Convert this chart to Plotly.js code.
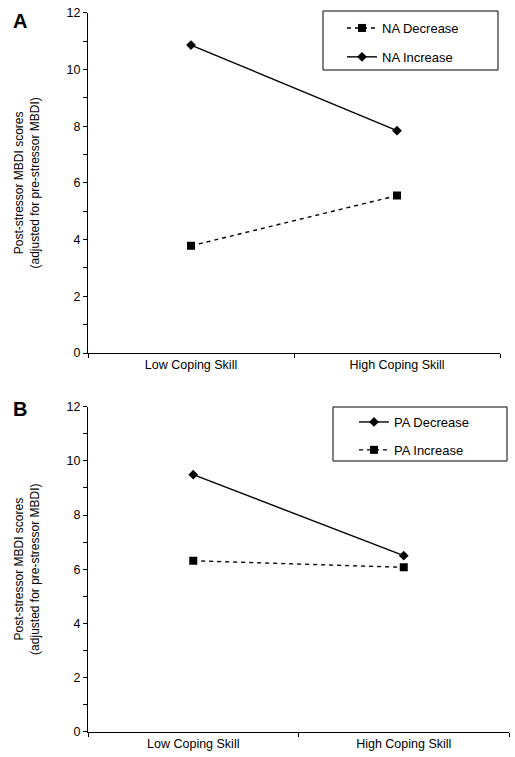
<!DOCTYPE html>
<html><head><meta charset="utf-8">
<script src="https://cdn.plot.ly/plotly-3.0.1.min.js"></script>
<style>html,body{margin:0;padding:0;background:#fff}#chart{width:515px;height:757px}</style>
</head><body><div id="chart"></div>
<script>
const categories = ["Low Coping Skill", "High Coping Skill"];
const naDecrease = [3.78, 5.55];
const naIncrease = [10.86, 7.84];
const paDecrease = [9.49, 6.50];
const paIncrease = [6.31, 6.07];
const yTitle = "Post-stressor MBDI scores<br>(adjusted for pre-stressor MBDI)";

const F = "Liberation Sans, Arial, sans-serif";
const sq = {symbol: "square", size: 8, color: "#000"};
const dm = {symbol: "diamond", size: 7.5, color: "#000"};
const solid = {color: "#000", width: 1.4};
const dashed = {color: "#000", width: 1.4, dash: "4px,4px"};

const traces = [
  {x: categories, y: naDecrease, name: "NA Decrease", mode: "lines+markers", marker: sq, line: dashed, xaxis: "x", yaxis: "y", legend: "legend", legendgroup: "a1"},
  {x: categories, y: naIncrease, name: "NA Increase", mode: "lines+markers", marker: dm, line: solid, xaxis: "x", yaxis: "y", legend: "legend", legendgroup: "a2"},
  {x: categories, y: paDecrease, name: "PA Decrease", mode: "lines+markers", marker: dm, line: solid, xaxis: "x2", yaxis: "y2", legend: "legend2", legendgroup: "b1"},
  {x: categories, y: paIncrease, name: "PA Increase", mode: "lines+markers", marker: sq, line: dashed, xaxis: "x2", yaxis: "y2", legend: "legend2", legendgroup: "b2"}
];

function xa(domain, anchor) {
  return {domain: domain, anchor: anchor, type: "category", range: [-0.5, 1.5],
    tickson: "boundaries", ticks: "outside", ticklen: 4, tickcolor: "#000",
    showline: true, linecolor: "#000", linewidth: 1, showgrid: false, zeroline: false,
    tickfont: {family: F, size: 12.5, color: "#000"}, fixedrange: true};
}
function ya(domain, anchor) {
  return {domain: domain, anchor: anchor, range: [0, 12], tickvals: [0, 2, 4, 6, 8, 10, 12],
    ticks: "outside", ticklen: 4, tickcolor: "#000",
    minor: {tickvals: [1, 3, 5, 7, 9, 11], ticks: "outside", ticklen: 4, tickcolor: "#000", showgrid: false},
    showline: true, linecolor: "#000", linewidth: 1, showgrid: false, zeroline: false,
    tickfont: {family: F, size: 12.5, color: "#000"},
    title: {text: yTitle, font: {family: F, size: 12, color: "#000"}, standoff: 24}, fixedrange: true};
}
function lg(x, y, gap) {
  return {x: x, y: y, xanchor: "left", yanchor: "top", bgcolor: "rgba(0,0,0,0)", borderwidth: 0,
    font: {family: F, size: 13, color: "#000"}, tracegroupgap: gap, itemwidth: 30};
}
function box(x0, x1, y0, y1) {
  return {type: "rect", xref: "paper", yref: "paper", x0: x0/515, x1: x1/515, y0: 1 - y1/757, y1: 1 - y0/757,
    line: {color: "#000", width: 1}, fillcolor: "rgba(0,0,0,0)", layer: "below"};
}

const layout = {
  width: 515, height: 757, margin: {l: 0, r: 0, t: 0, b: 0},
  paper_bgcolor: "#fff", plot_bgcolor: "#fff", showlegend: true,
  font: {family: F, size: 12, color: "#000"},
  xaxis: xa([88/515, 500/515], "y"),
  yaxis: ya([1 - 353/757, 1 - 12.7/757], "x"),
  xaxis2: xa([88/515, 509/515], "y2"),
  yaxis2: ya([1 - 731.7/757, 1 - 406.7/757], "x2"),
  legend: lg(342/515, 1 - 13/757, 9),
  legend2: lg(354/515, 1 - 407/757, 8),
  shapes: [box(323, 498, 11, 70), box(333, 507, 407, 461)],
  annotations: [
    {text: "<b>A</b>", xref: "paper", yref: "paper", x: 11/515, y: 1 - 8/757, xanchor: "left", yanchor: "top", showarrow: false, font: {family: F, size: 20, color: "#000"}},
    {text: "<b>B</b>", xref: "paper", yref: "paper", x: 11/515, y: 1 - 396/757, xanchor: "left", yanchor: "top", showarrow: false, font: {family: F, size: 20, color: "#000"}}
  ]
};
Plotly.newPlot("chart", traces, layout, {displayModeBar: false, staticPlot: true});
</script></body></html>
